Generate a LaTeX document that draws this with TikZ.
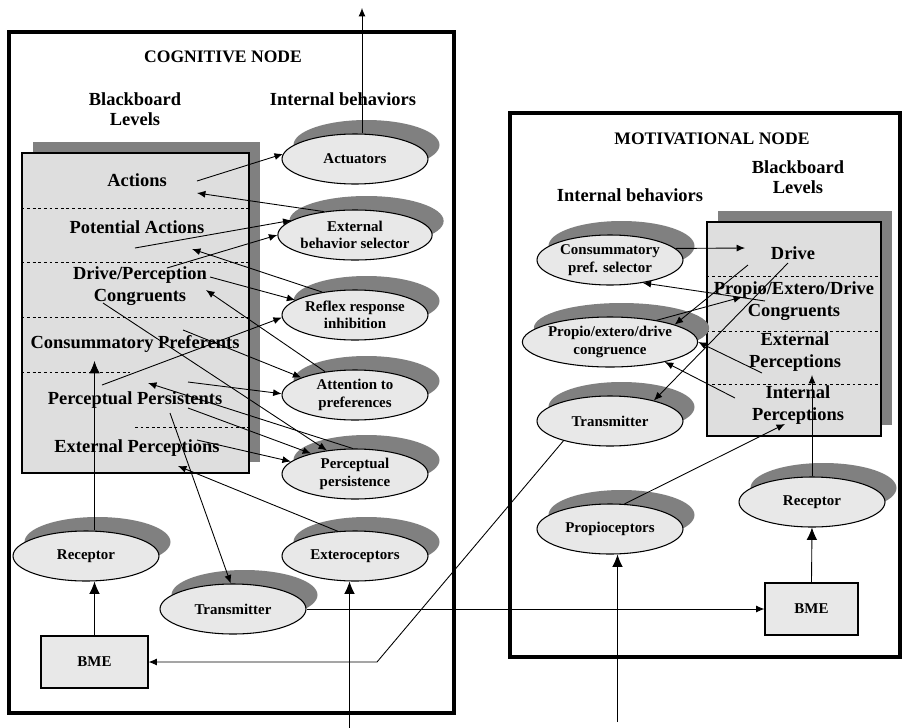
\documentclass[tikz,border=0pt]{standalone}
\usepackage{fontspec}
\setmainfont{Liberation Serif}
\usetikzlibrary{arrows.meta,shapes.geometric,shadows}
\tikzset{>={Latex[length=4.8pt,width=4pt]}}
\tikzstyle{frame}=[line width=1.9pt]
\tikzstyle{board}=[rectangle,draw,fill=black!13,line width=0.6pt,general shadow={fill=gray,shadow xshift=2.2mm,shadow yshift=2.3mm}]
\tikzstyle{beh}=[ellipse,draw,fill=black!9,line width=0.6pt,minimum width=29.2mm,minimum height=10mm,inner sep=0pt,align=center,font=\fontsize{8.5}{10}\selectfont\bfseries,general shadow={fill=gray,shadow xshift=2.3mm,shadow yshift=2.8mm}]
\tikzstyle{bme}=[rectangle,draw,fill=black!9,line width=0.6pt,minimum height=10.4mm,font=\fontsize{8.5}{10}\selectfont\bfseries]
\tikzstyle{level}=[align=center,inner sep=1pt,font=\fontsize{10.5}{12.5}\selectfont\bfseries]
\tikzstyle{head}=[align=center,inner sep=1pt,font=\fontsize{10.5}{11.5}\selectfont\bfseries]
\tikzstyle{title}=[inner sep=1pt,font=\fontsize{10}{11}\selectfont\bfseries]
\tikzstyle{sep}=[line width=0.5pt,dash pattern=on 1.6pt off 1.6pt]
\tikzstyle{big}=[line width=0.5pt,-{Latex[length=7pt,width=6pt]}]
\begin{document}
\begin{tikzpicture}[x=0.2mm,y=-0.2mm,line width=0.5pt]
	\useasboundingbox (0,0) rectangle (904,728);
	
	% cognitive node
	\draw[frame] (9,32) rectangle (454,713);
	\node[title] (cogtitle) at (223,57) {COGNITIVE NODE};
	\node[head] (cogbb) at (135,109) {Blackboard\\Levels};
	\node[head] (cogib) at (343,99) {Internal behaviors};
	
	\node[board,minimum width=45.4mm,minimum height=64mm] (bbc) at (135.5,313) {};
	\draw[sep] (bbc.west |- 0,208) -- (bbc.east |- 0,208);
	\draw[sep] (bbc.west |- 0,262) -- (bbc.east |- 0,262);
	\draw[sep] (bbc.west |- 0,317) -- (bbc.east |- 0,317);
	\draw[sep] (bbc.west |- 0,372) -- (130,372);
	\draw[sep] (135,427) -- (bbc.east |- 0,427);
	
	\node[level] (act) at (137,180) {Actions};
	\node[level] (pot) at (137,227) {Potential Actions};
	\node[level] (dpc) at (140,286) {Drive/Perception\\Congruents};
	\node[level] (cpr) at (135,344) {Consummatory Preferents};
	\node[level] (pps) at (135,400) {Perceptual Persistents};
	\node[level] (epc) at (137,448) {External Perceptions};
	
	\node[beh] (actu) at (355,159) {Actuators};
	\node[beh] (ebs) at (355,235) {External\\behavior selector};
	\node[beh] (rri) at (355,315) {Reflex response\\inhibition};
	\node[beh] (atp) at (355,395) {Attention to\\preferences};
	\node[beh] (pp) at (355,474) {Perceptual\\persistence};
	\node[beh] (ext) at (355,556) {Exteroceptors};
	\node[beh] (trc) at (233,609) {Transmitter};
	\node[beh] (recc) at (86,556) {Receptor};
	\node[bme,minimum width=21.4mm] (bmec) at (94.5,662) {BME};
	
	% motivational node
	\draw[frame] (510,113) rectangle (900,657);
	\node[title] (mottitle) at (712,139) {MOTIVATIONAL NODE};
	\node[head] (motbb) at (798,177) {Blackboard\\Levels};
	\node[head] (motib) at (630,195) {Internal behaviors};
	
	\node[board,minimum width=34.8mm,minimum height=42.8mm] (bbm) at (794,329) {};
	\draw[sep] (bbm.west |- 0,276) -- (bbm.east |- 0,276);
	\draw[sep] (bbm.west |- 0,331) -- (bbm.east |- 0,331);
	\draw[sep] (bbm.west |- 0,384) -- (bbm.east |- 0,384);
	
	\node[level] (drv) at (793,253) {Drive};
	\node[level] (peg) at (794,301) {Propio/Extero/Drive\\Congruents};
	\node[level] (extp) at (795,352) {External\\Perceptions};
	\node[level] (intp) at (798,405) {Internal\\Perceptions};
	
	\node[beh] (cps) at (610,260) {Consummatory\\pref. selector};
	\node[beh] (pedc) at (610,342) {Propio/extero/drive\\congruence};
	\node[beh] (trm) at (610,421) {Transmitter};
	\node[beh] (prop) at (610,529) {Propioceptors};
	\node[beh] (recm) at (812,502) {Receptor};
	\node[bme,minimum width=18.6mm] (bmem) at (811.5,609) {BME};
	
	% free ends
	\coordinate (cogout) at (362,8);
	\coordinate (cpin) at (94.5,361);
	\coordinate (extin) at (349.5,728);
	\coordinate (propin) at (617.5,722);
	\coordinate (bend) at (377,662);
	
	\coordinate (act-a) at (197,181);
	\coordinate (act-b) at (197,193);
	\coordinate (pot-a) at (135,248);
	\coordinate (pot-b) at (192,249);
	\coordinate (dpc-a) at (167,268);
	\coordinate (dpc-b) at (210,277);
	\coordinate (dpc-c) at (103,303);
	\coordinate (dpc-d) at (206,290);
	\coordinate (cpr-a) at (183,330);
	\coordinate (pps-a) at (102,385);
	\coordinate (pps-b) at (148,383);
	\coordinate (pps-c) at (188,382);
	\coordinate (pps-d) at (188,408);
	\coordinate (pps-e) at (170,413);
	\coordinate (epc-a) at (197,440);
	\coordinate (epc-b) at (178,466);
	
	\coordinate (drv-a) at (745,248);
	\coordinate (drv-b) at (748,265);
	\coordinate (drv-c) at (788,263);
	\coordinate (peg-a) at (765,301);
	\coordinate (peg-b) at (742,297);
	\coordinate (ext-a) at (762,373);
	\coordinate (ext-b) at (812,375);
	\coordinate (int-a) at (735,398);
	\coordinate (int-b) at (785,424);
	
	% cognitive connectors
	\draw[->] (act-a) -- (actu.176);
	\draw[->] (ebs.143) -- (act-b);
	\draw[->] (pot-a) -- (ebs.167);
	\draw[->] (dpc-a) -- (ebs.180);
	\draw[->] (rri.145) -- (pot-b);
	\draw[->] (dpc-b) -- (rri.166);
	\draw[->] (pps-a) -- (rri.182);
	\draw[->] (atp.142) -- (dpc-d);
	\draw[->] (dpc-c) -- (pp.140);
	\draw[->] (cpr-a) -- (atp.162);
	\draw[->] (pps-c) -- (atp.179);
	\draw[->] (pp.95) -- (pps-b);
	\draw[->] (pps-d) -- (pp.155);
	\draw[->] (epc-a) -- (pp.169);
	\draw[->] (ext.125) -- (epc-b);
	\draw[->] (pps-e) -- (trc.95);
	\draw[->] (actu.north -| cogout) -- (cogout);
	\draw[big] (cpin |- recc.north) -- (cpin);
	\draw[big] (bmec.north) -- (bmec.north |- recc.south);
	\draw[big] (extin) -- (extin |- ext.south);
	\draw[->] (trc.east) -- (trc.east -| bmem.west);
	\draw[->] (trm.203) -- (bend) -- (bmec.east);
	
	% motivational connectors
	\draw[->] (cps.10) -- (drv-a);
	\draw[->] (peg-a) -- (cps.-35);
	\draw[->] (pedc.25) -- (peg-b);
	\draw[->] (drv-b) -- (pedc.15);
	\draw[->] (drv-c) -- (trm.25);
	\draw[->] (ext-a) -- (pedc.0);
	\draw[->] (int-a) -- (pedc.-20);
	\draw[->] (prop.60) -- (int-b);
	\draw[->] (recm.north) -- (ext-b);
	\draw[big] (bmem.north) -- (recm.south);
	\draw[big] (propin) -- (propin |- prop.south);
\end{tikzpicture}
\end{document}
